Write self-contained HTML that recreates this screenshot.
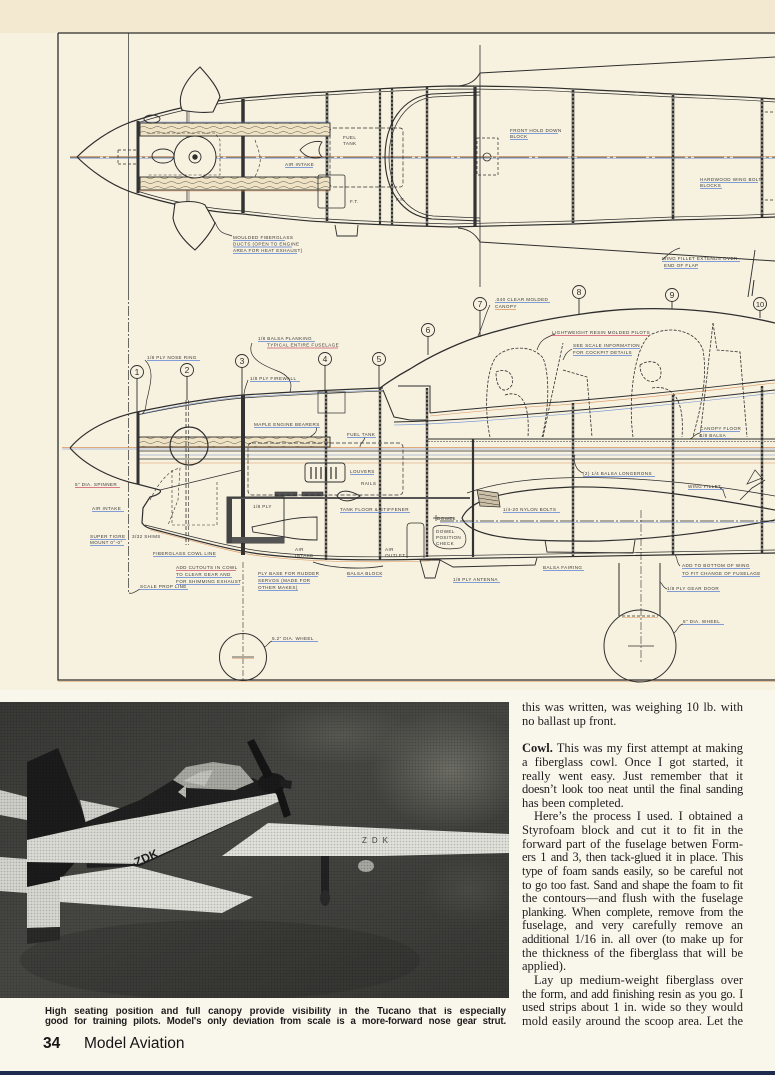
<!DOCTYPE html>
<html><head><meta charset="utf-8">
<style>
html,body{margin:0;padding:0}
body{width:775px;height:1075px;position:relative;overflow:hidden;background:#f9f6ec;font-family:"Liberation Sans",sans-serif}
.top{position:absolute;left:0;top:0;width:775px;height:33px;background:#f3e8d0}
.draw{position:absolute;left:0;top:33px;width:775px;height:657px;background:#f7f1df}
.cap{position:absolute;left:45px;top:1007px;width:461px;font-weight:bold;font-size:9.7px;line-height:10.3px;color:#1c1c1c}
.cap div{text-align:justify;text-align-last:justify;height:10.3px;overflow:hidden}
.folio{position:absolute;top:1035.6px;font-size:15.5px;line-height:16px;color:#151515}
.col{position:absolute;left:522px;top:701.4px;width:221px;font-family:"Liberation Serif",serif;font-size:12.5px;line-height:13.64px;color:#1e1e1e}
.col div{text-align:justify;text-align-last:justify;height:13.64px;overflow:hidden;white-space:normal}
.col div.e{text-align-last:left}
.col div.i{text-indent:12px}
.col div.t{letter-spacing:-0.28px}
.navy{position:absolute;left:0;top:1071px;width:775px;height:4px;background:#1e2b4d}
</style></head><body>
<div class="top"></div>
<div class="draw"></div>

<svg width="775" height="1075" viewBox="0 0 775 1075" style="position:absolute;left:0;top:0">
<defs>
 <pattern id="wood" width="14" height="5" patternUnits="userSpaceOnUse">
  <rect width="14" height="5" fill="#efe3c4"/>
  <path d="M0,2.5 Q3.5,0.5 7,2.5 T14,2.5" fill="none" stroke="#555" stroke-width="0.5"/>
 </pattern>
 <pattern id="half" width="3" height="3" patternUnits="userSpaceOnUse">
  <circle cx="1.5" cy="1.5" r="0.9" fill="#000" opacity="0.18"/>
 </pattern>
 <linearGradient id="pg" x1="0" y1="0" x2="1" y2="1">
  <stop offset="0" stop-color="#383835"/>
  <stop offset="0.45" stop-color="#474743"/>
  <stop offset="1" stop-color="#373734"/>
 </linearGradient>
 <radialGradient id="spot" cx="0.5" cy="0.5" r="0.5">
  <stop offset="0" stop-color="#77776f" stop-opacity="0.8"/>
  <stop offset="1" stop-color="#77776f" stop-opacity="0"/>
 </radialGradient>
 <clipPath id="pc"><rect x="0" y="702" width="509" height="296"/></clipPath>
</defs>

<!-- ================= DRAWING ================= -->
<g fill="none" stroke="#2e2e2e" stroke-width="1">
 <path d="M58,33 H775 M58,33 V680 H775" stroke-width="1.3"/>
 <line x1="58" y1="681.5" x2="775" y2="681.5" stroke="#d9925a" stroke-width="0.6"/>
 <line x1="128.5" y1="33" x2="128.5" y2="290" stroke-width="0.7"/>
 <line x1="128.5" y1="290" x2="128.5" y2="593" stroke-width="0.7" stroke-dasharray="10 2 2 2"/>

 <!-- ===== TOP VIEW ===== -->
 <line x1="70" y1="156.3" x2="775" y2="156.3" stroke="#d9925a" stroke-width="0.7"/>
 <line x1="70" y1="158.2" x2="775" y2="158.2" stroke="#6c8fd4" stroke-width="0.7"/>
 <line x1="70" y1="157.2" x2="775" y2="157.2" stroke-width="0.6" stroke-dasharray="30 3 3 3"/>

 <path d="M77,157 C88,146 110,128 137,120 C165,111 205,101 243,98 C280,95 300,93 327,92 C360,90 380,88 450,86 C500,86 540,87 573,89 C620,91 650,93 673,94 C720,96 750,97 775,99" stroke-width="1.2"/>
 <path d="M137,123 C165,114 205,104 243,101 C280,98 300,96 327,95 C360,93 380,91 450,89 C500,89 540,90 573,92 C620,94 650,96 673,97 C720,99 750,100 775,102" stroke-width="0.7"/>
 <path d="M77,157 C88,168 110,186 137,194 C165,203 205,212 243,214 C280,218 300,221 327,222 C360,224 380,225 450,227 C500,226 540,225 573,224 C620,222 650,221 673,220 C720,219 750,218 775,217" stroke-width="1.2"/>
 <path d="M137,191 C165,200 205,209 243,211 C280,215 300,218 327,219 C360,221 380,222 450,224 C500,223 540,222 573,221 C620,219 650,218 673,217 C720,216 750,215 775,214" stroke-width="0.7"/>

 <g stroke="#333">
  <line x1="138" y1="121" x2="138" y2="193" stroke-width="3"/>
  <line x1="243" y1="99" x2="243" y2="213" stroke-width="3.5"/>
  <line x1="327" y1="93" x2="327" y2="221" stroke-width="2.6"/>
  <line x1="380" y1="89" x2="380" y2="224" stroke-width="2.2"/>
  <line x1="392" y1="88" x2="392" y2="225" stroke-width="2.2"/>
  <line x1="427" y1="87" x2="427" y2="226" stroke-width="2.4"/>
  <line x1="475" y1="87" x2="475" y2="226" stroke-width="3.2"/>
  <line x1="573" y1="90" x2="573" y2="223" stroke-width="2.6"/>
  <line x1="673" y1="95" x2="673" y2="219" stroke-width="2.6"/>
  <line x1="762" y1="98" x2="762" y2="217" stroke-width="2.6"/>
 </g>
 <g stroke="#f7f1df" stroke-width="0.8" stroke-dasharray="2 2">
  <line x1="327" y1="95" x2="327" y2="219"/>
  <line x1="380" y1="91" x2="380" y2="222"/>
  <line x1="392" y1="90" x2="392" y2="223"/>
  <line x1="427" y1="89" x2="427" y2="224"/>
  <line x1="573" y1="92" x2="573" y2="221"/>
  <line x1="673" y1="97" x2="673" y2="217"/>
  <line x1="762" y1="100" x2="762" y2="215"/>
 </g>
 <line x1="187" y1="108" x2="187" y2="206" stroke-width="0.8"/>
 <line x1="189" y1="108" x2="189" y2="206" stroke-width="0.5"/>

 <rect x="140" y="123" width="190" height="13" fill="url(#wood)" stroke-width="0.9"/>
 <rect x="140" y="177" width="190" height="13" fill="url(#wood)" stroke-width="0.9"/>
 <line x1="140" y1="122" x2="330" y2="122" stroke="#6c8fd4" stroke-width="0.6"/>
 <line x1="140" y1="191" x2="330" y2="191" stroke="#d9925a" stroke-width="0.6"/>

 <path d="M200,67 C210,78 218,88 220,97 L213,112 C203,113 190,112 182,110 C178,100 180,85 200,67 Z" fill="#f7f1df" stroke-width="1.1"/>
 <path d="M175,203 C190,200 200,202 205,205 L215,223 C210,235 200,245 195,250 C183,240 175,230 173,218 Z" fill="#f7f1df" stroke-width="1.1"/>
 <circle cx="195" cy="157" r="21" fill="#f7f1df" stroke-width="1"/>
 <circle cx="195" cy="157" r="6" stroke-width="0.9"/>
 <circle cx="195" cy="157" r="2.2" fill="#2e2e2e"/>
 <ellipse cx="163" cy="156" rx="11" ry="7" stroke-width="0.9"/>
 <ellipse cx="152" cy="119" rx="8" ry="4" stroke-width="0.9"/>
 <path d="M118,150 H137 M118,164 H137 M118,150 V164" stroke-width="0.7" stroke-dasharray="3 2"/>
 <path d="M147,133 L215,133 L220,140 L220,175 L147,175" stroke-width="0.6" stroke-dasharray="3 2"/>
 <path d="M255,140 C262,160 262,160 255,177" stroke-width="0.6" stroke-dasharray="3 2"/>
 <path d="M300,150 C306,143 315,140 322,142 C318,148 318,153 322,157 C314,160 305,157 300,150 Z" stroke-width="0.9"/>
 <rect x="330" y="128" width="73" height="59" rx="3" stroke-width="0.7" stroke-dasharray="4 2"/>
 <rect x="318" y="175" width="27" height="33" rx="2" stroke-width="0.8"/>
 <path d="M335,225 L337,236 L357,236 L358,225" stroke-width="0.9"/>
 <path d="M480,92 L432,94 C402,97 385,124 385,157 C385,190 402,216 432,219 L480,221" stroke-width="1.1"/>
 <path d="M480,95 L433,97 C406,100 389,126 389,157 C389,188 406,213 433,216 L480,218" stroke-width="0.7"/>
 <rect x="477" y="138" width="21" height="37" stroke-width="0.7" stroke-dasharray="3 2"/>
 <circle cx="487" cy="157" r="4" stroke-width="0.8"/>
 <path d="M458,86 C470,85 476,80 480,73 L775,57" stroke-width="1"/>
 <path d="M458,228 C470,229 476,235 480,242 L775,261" stroke-width="1"/>
 <line x1="480" y1="45" x2="480" y2="287" stroke-width="0.8"/>
 <path d="M765,112 L775,112 M765,200 L775,200" stroke-width="0.7" stroke-dasharray="3 2"/>
 <line x1="748" y1="297" x2="755" y2="250" stroke-width="0.9"/>
 <line x1="754" y1="280" x2="752" y2="296" stroke-width="1"/>

 <!-- ===== SIDE VIEW ===== -->
 <line x1="62" y1="447.5" x2="775" y2="447.5" stroke="#d9925a" stroke-width="0.8"/>
 <line x1="62" y1="449" x2="775" y2="449" stroke="#6c8fd4" stroke-width="0.5"/>
 <line x1="137" y1="451" x2="775" y2="451" stroke-width="0.7"/>
 <line x1="137" y1="455" x2="775" y2="455" stroke="#6c8fd4" stroke-width="0.6"/>
 <line x1="137" y1="459" x2="775" y2="459" stroke-width="0.8"/>
 <line x1="137" y1="463" x2="775" y2="463" stroke="#d9925a" stroke-width="0.6"/>
 <path d="M70,448 C85,430 110,418 137,412 C175,404 210,398 243,395 C290,392 330,390 383,388" stroke-width="1.2"/>
 <path d="M137,415 C175,407 210,401 243,398 C290,395 330,393 383,391" stroke-width="0.7"/>
 <path d="M140,414 C175,406 210,400 243,397 C290,394 330,392 383,390" stroke="#6c8fd4" stroke-width="0.5"/>
 <path d="M380,388 Q395,377 410,369 Q440,350 477,337 Q525,322 575,315 Q625,307 672,309 Q725,311 775,323" stroke-width="1.3"/>
 <path d="M383,390 L394,417 L410,420 L428,420" stroke-width="1"/>
 <path d="M398,386 L430,386 L430,413" stroke-width="1"/>
 <path d="M430,413 C470,409 520,404 560,402 C650,395 720,386 775,380" stroke-width="1"/>
 <path d="M430,416 C470,412 520,407 560,405 C650,398 720,389 775,383" stroke="#d9925a" stroke-width="0.6"/>
 <path d="M394,422 C450,421 520,415 580,410 C660,403 720,396 775,390" stroke-width="1"/>
 <path d="M394,425 C450,424 520,418 580,413 C660,406 720,399 775,393" stroke="#6c8fd4" stroke-width="0.6"/>
 <line x1="428" y1="439" x2="775" y2="439" stroke-width="1"/>
 <line x1="428" y1="441.5" x2="775" y2="441.5" stroke-width="0.6" stroke-dasharray="2 1"/>
 <rect x="138" y="437" width="192" height="10" fill="url(#wood)" stroke-width="0.9"/>
 <circle cx="189" cy="446" r="19" stroke-width="1.2"/>
 <path d="M70,448 C85,465 110,478 137,484 L160,490 C162,492 158,495 150,497 L143,508 L142,523 C145,527 148,528 152,529 C190,539 230,550 260,554 C300,559 360,561 430,559 C550,557 680,555 775,553" stroke-width="1.2"/>
 <path d="M145,525 C190,536 230,547 260,551 C300,556 360,558 430,556 C550,554 680,552 775,550" stroke-width="0.7"/>
 <path d="M150,530 C190,540 230,552 260,556 C300,561 360,563 430,561" stroke="#d9925a" stroke-width="0.6"/>
 <path d="M160,490 L243,470" stroke-width="0.8"/>
 <g stroke="#333">
  <line x1="138" y1="412" x2="138" y2="484" stroke-width="3"/>
  <line x1="243" y1="395" x2="243" y2="555" stroke-width="4"/>
  <line x1="326" y1="391" x2="326" y2="560" stroke-width="2.4"/>
  <line x1="380" y1="388" x2="380" y2="560" stroke-width="2.4"/>
  <line x1="427" y1="388" x2="427" y2="557" stroke-width="2.4"/>
  <line x1="473" y1="439" x2="473" y2="557" stroke-width="2.2"/>
  <line x1="573" y1="403" x2="573" y2="557" stroke-width="2.4"/>
  <line x1="673" y1="395" x2="673" y2="555" stroke-width="2.4"/>
  <line x1="762" y1="386" x2="762" y2="553" stroke-width="2.4"/>
 </g>
 <g stroke="#f7f1df" stroke-width="0.8" stroke-dasharray="2 2">
  <line x1="326" y1="393" x2="326" y2="558"/>
  <line x1="380" y1="390" x2="380" y2="558"/>
  <line x1="427" y1="390" x2="427" y2="555"/>
  <line x1="573" y1="405" x2="573" y2="555"/>
  <line x1="673" y1="397" x2="673" y2="553"/>
  <line x1="762" y1="388" x2="762" y2="551"/>
 </g>
 <line x1="186" y1="400" x2="186" y2="545" stroke-width="0.8" stroke-dasharray="4 2"/>
 <line x1="188.5" y1="400" x2="188.5" y2="545" stroke-width="0.6" stroke-dasharray="4 2"/>

 <g stroke-width="0.9">
  <circle cx="137" cy="372" r="6.5"/><line x1="137" y1="379" x2="137" y2="412"/>
  <circle cx="187" cy="370" r="6.5"/><line x1="187" y1="377" x2="187" y2="400"/>
  <circle cx="242" cy="361" r="6.5"/><line x1="242" y1="368" x2="242" y2="395"/>
  <circle cx="325" cy="359" r="6.5"/><line x1="325" y1="366" x2="325" y2="391"/>
  <circle cx="379" cy="359" r="6.5"/><line x1="379" y1="366" x2="379" y2="388"/>
  <circle cx="428" cy="330" r="6.5"/><line x1="428" y1="337" x2="428" y2="355"/>
  <circle cx="480" cy="304" r="6.5"/><line x1="480" y1="311" x2="480" y2="337"/>
  <circle cx="579" cy="292" r="6.5"/><line x1="579" y1="299" x2="579" y2="315"/>
  <circle cx="672" cy="295" r="6.5"/><line x1="672" y1="302" x2="672" y2="309"/>
  <circle cx="760" cy="304" r="6.5"/><line x1="760" y1="311" x2="760" y2="318"/>
 </g>

 <line x1="227" y1="498" x2="470" y2="498" stroke="#555" stroke-width="2"/>
 <rect x="227" y="497" width="57" height="46" stroke-width="0.9"/>
 <rect x="227" y="497" width="5" height="46" fill="#444" stroke="none"/>
 <rect x="232" y="537" width="52" height="6" fill="#555" stroke="none"/>
 <rect x="275" y="492" width="22" height="4" fill="#555" stroke="#333" stroke-width="0.6"/>
 <rect x="302" y="492" width="21" height="4" fill="#555" stroke="#333" stroke-width="0.6"/>
 <path d="M252,527 L285,520 Q300,517 317,517 L317,540 Q300,540 285,537 L253,532 Z" stroke-width="0.9"/>
 <rect x="305" y="463" width="40" height="19" rx="3" stroke-width="0.9"/>
 <path d="M311,467 V479 M316,467 V479 M321,467 V479 M326,467 V479 M331,467 V479 M336,467 V479" stroke-width="1.2"/>
 <rect x="248" y="443" width="155" height="52" rx="4" stroke-width="0.7" stroke-dasharray="4 2"/>
 <rect x="318" y="392" width="27" height="21" stroke-width="0.7"/>
 <path d="M337,496 C340,489 350,490 360,496 C352,502 342,503 337,496 Z" stroke-width="1"/>
 <path d="M407,558 L407,527 Q407,523 411,523 L420,523 Q424,523 424,527 L424,558" stroke-width="0.8"/>
 <path d="M172,470 L172,525 L217,525 L217,480" stroke-width="0.6" stroke-dasharray="3 2"/>
 <path d="M150,500 C160,480 170,470 180,468 L178,500 L168,525" stroke-width="0.6" stroke-dasharray="3 2"/>
 <path d="M313,562 C330,568 360,570 383,566" stroke-width="0.9"/>

 <path d="M462,518 C470,500 500,490 573,487 C640,486 720,500 775,510" stroke-width="1.2"/>
 <path d="M462,518 C470,538 520,542 600,541 C680,538 730,528 775,520" stroke-width="1.2"/>
 <path d="M467,493 C530,470 650,474 775,496" stroke-width="0.8"/>
 <line x1="440" y1="521" x2="775" y2="521" stroke-width="0.7" stroke-dasharray="14 2 2 2"/>
 <line x1="440" y1="522.5" x2="775" y2="522.5" stroke="#6c8fd4" stroke-width="0.5"/>
 <path d="M477,490 L498,493 L500,507 L480,506 Z" fill="#ccc1a6" stroke-width="0.8"/>
 <path d="M479,494 L497,497 M479,498 L498,501 M480,502 L499,505" stroke-width="0.5"/>
 <path d="M433,518 H455 M436,515 V521" stroke-width="0.7"/>
 <path d="M433,530 C432,524 445,525 455,527 C468,528 469,546 460,548 C448,550 433,549 433,540 Z" stroke-width="0.7"/>
 <path d="M420,560 L440,560 L435,578 L425,578 Z" stroke-width="0.9"/>
 <path d="M440,560 L453,567 L535,565 L537,558" stroke-width="0.9"/>
 <path d="M545,540 L547,552 L633,553 L635,540" stroke-width="0.9"/>
 <path d="M740,500 L752,488 L765,480" stroke-width="0.8"/>
 <path d="M747,484 L755,470 L762,478 Z" stroke-width="0.7"/>

 <g stroke-width="0.8" stroke-dasharray="3 1.5">
  <path d="M490,437 C484,410 486,370 496,357 C506,346 532,344 543,358 C550,375 549,410 542,437"/>
  <path d="M496,372 C505,368 515,372 512,385 C505,395 496,390 496,372"/>
  <path d="M505,395 C520,390 530,400 528,437"/>
  <path d="M543,437 L563,343"/>
  <path d="M563,370 L587,377 L592,437"/>
  <path d="M633,437 C628,400 634,348 650,335 C670,325 696,330 703,350 C708,380 700,410 693,437"/>
  <path d="M640,365 C650,358 665,362 660,378 C652,386 640,380 640,365"/>
  <path d="M652,388 C670,385 685,395 682,437"/>
  <path d="M700,437 L713,323"/>
  <path d="M713,323 L717,350 L740,352 L747,437"/>
 </g>

 <circle cx="243" cy="657" r="23.5" stroke-width="1"/>
 <line x1="243" y1="562" x2="243" y2="680" stroke-width="0.6" stroke-dasharray="6 2 2 2"/>
 <line x1="232" y1="657" x2="254" y2="657" stroke-width="0.7"/>
 <line x1="232" y1="658.5" x2="254" y2="658.5" stroke="#d9925a" stroke-width="0.5"/>
 <line x1="619" y1="563" x2="619" y2="616" stroke-width="1"/>
 <line x1="660" y1="563" x2="660" y2="616" stroke-width="1"/>
 <circle cx="640" cy="646" r="36" stroke-width="1"/>
 <line x1="622" y1="616" x2="658" y2="616" stroke-width="0.7" stroke-dasharray="3 2"/>
 <line x1="622" y1="617.5" x2="658" y2="617.5" stroke="#d9925a" stroke-width="0.5"/>
 <line x1="641" y1="510" x2="641" y2="662" stroke-width="0.6" stroke-dasharray="8 2 2 2"/>
 <line x1="628" y1="646" x2="654" y2="646" stroke-width="0.7"/>

 <g stroke-width="0.7">
  <path d="M215,222 C220,235 225,233 232,236"/>
  <path d="M252,343 C245,360 270,368 280,372 C292,378 292,385 290,392"/>
  <path d="M145,360 C155,370 150,385 148,395 C145,405 147,410 142,414"/>
  <path d="M248,380 C246,386 244,390 244,395"/>
  <path d="M316,427 C318,432 313,435 310,437"/>
  <path d="M365,437 C364,442 360,443 360,447"/>
  <path d="M555,334 C545,338 540,340 537,350"/>
  <path d="M572,349 C565,353 565,356 563,360"/>
  <path d="M490,305 C485,315 483,325 478,336"/>
  <path d="M700,433 C694,434 695,437 690,439"/>
  <path d="M583,473 C575,470 573,460 575,455"/>
  <path d="M720,488 C725,490 723,494 726,498"/>
  <path d="M680,566 C676,562 678,558 675,555"/>
  <path d="M667,589 C662,587 663,584 660,582"/>
  <path d="M683,624 C678,625 678,630 674,633"/>
  <path d="M272,641 C267,643 268,646 264,647"/>
  <path d="M662,260 C668,255 672,250 680,248"/>
  <path d="M140,589 C135,592 132,594 129,593"/>
 </g>
</g>

<g font-family="Liberation Sans, sans-serif" font-size="4.6" fill="#3a3a3a" letter-spacing="0.4">
 <text x="233" y="239">MOULDED FIBERGLASS</text>
 <text x="233" y="245.5">DUCTS (OPEN TO ENGINE</text>
 <text x="233" y="252">AREA FOR HEAT EXHAUST)</text>
 <text x="285" y="166">AIR INTAKE</text>
 <text x="343" y="139">FUEL</text><text x="343" y="145">TANK</text>
 <text x="350" y="203">F.T.</text>
 <text x="396" y="201">F.R.</text>
 <text x="510" y="132">FRONT HOLD DOWN</text><text x="510" y="138">BLOCK</text>
 <text x="700" y="181">HARDWOOD WING BOLT</text><text x="700" y="187">BLOCKS</text>
 <text x="662" y="260">WING FILLET EXTENDS OVER</text><text x="664" y="267">END OF FLAP</text>
 <text x="147" y="359">1/8 PLY NOSE RING</text>
 <text x="258" y="340">1/8 BALSA PLANKING</text><text x="267" y="346.5">TYPICAL ENTIRE FUSELAGE</text>
 <text x="250" y="380">1/8 PLY FIREWALL</text>
 <text x="254" y="426">MAPLE ENGINE BEARERS</text>
 <text x="347" y="436">FUEL TANK</text>
 <text x="350" y="473">LOUVERS</text>
 <text x="361" y="485">RAILS</text>
 <text x="75" y="486">5" DIA. SPINNER</text>
 <text x="92" y="510">AIR INTAKE</text>
 <text x="90" y="538">SUPER TIGRE</text><text x="90" y="544">MOUNT 0°-0°</text>
 <text x="132" y="538">3/32 SHIMS</text>
 <text x="153" y="555">FIBERGLASS COWL LINE</text>
 <text x="176" y="569">ADD CUTOUTS IN COWL</text><text x="176" y="576">TO CLEAR GEAR AND</text><text x="176" y="583">FOR SHIMMING EXHAUST</text>
 <text x="140" y="588">SCALE PROP LINE</text>
 <text x="253" y="508">1/8 PLY</text>
 <text x="295" y="551">AIR</text><text x="295" y="557">INTAKE</text>
 <text x="258" y="575">PLY BASE FOR RUDDER</text><text x="258" y="582">SERVOS (MADE FOR</text><text x="258" y="589">OTHER MAKES)</text>
 <text x="347" y="575">BALSA BLOCK</text>
 <text x="385" y="551">AIR</text><text x="385" y="557">OUTLET</text>
 <text x="272" y="640">5.2" DIA. WHEEL</text>
 <text x="340" y="511">TANK FLOOR &amp; STIFFENER</text>
 <text x="495" y="301">.040 CLEAR MOLDED</text><text x="495" y="308">CANOPY</text>
 <text x="552" y="334">LIGHTWEIGHT RESIN MOLDED PILOTS</text>
 <text x="573" y="347">SEE SCALE INFORMATION</text><text x="573" y="354">FOR COCKPIT DETAILS</text>
 <text x="583" y="475">(2) 1/4 BALSA LONGERONS</text>
 <text x="688" y="488">WING FILLET</text>
 <text x="700" y="430">CANOPY FLOOR</text><text x="700" y="437">1/8 BALSA</text>
 <text x="503" y="511">1/4-20 NYLON BOLTS</text>
 <text x="437" y="520">DOWEL</text>
 <text x="436" y="533">DOWEL</text><text x="436" y="539">POSITION</text><text x="436" y="545">CHECK</text>
 <text x="453" y="581">1/8 PLY ANTENNA</text>
 <text x="543" y="569">BALSA FAIRING</text>
 <text x="682" y="567">ADD TO BOTTOM OF WING</text><text x="682" y="575">TO FIT CHANGE OF FUSELAGE</text>
 <text x="667" y="590">1/8 PLY GEAR DOOR</text>
 <text x="683" y="623">5" DIA. WHEEL</text>
</g>
<g font-family="Liberation Sans, sans-serif" font-size="8.5" fill="#2e2e2e" text-anchor="middle">
 <text x="137" y="375">1</text><text x="187" y="373">2</text><text x="242" y="364">3</text><text x="325" y="362">4</text><text x="379" y="362">5</text>
 <text x="428" y="333">6</text><text x="480" y="307">7</text><text x="579" y="295">8</text><text x="672" y="298">9</text><text x="760" y="307" font-size="7.5">10</text>
</g>
<g stroke-width="0.7" stroke="#5b7fd6">
 <line x1="233" y1="240.5" x2="285" y2="240.5"/><line x1="233" y1="247" x2="292" y2="247"/><line x1="233" y1="253.5" x2="297" y2="253.5"/>
 <line x1="285" y1="167.5" x2="313" y2="167.5"/>
 <line x1="510" y1="133.5" x2="558" y2="133.5"/><line x1="510" y1="139.5" x2="528" y2="139.5"/>
 <line x1="700" y1="182.5" x2="758" y2="182.5"/><line x1="700" y1="188.5" x2="722" y2="188.5"/>
 <line x1="662" y1="261.5" x2="740" y2="261.5"/><line x1="664" y1="268.5" x2="698" y2="268.5"/>
 <line x1="147" y1="360.5" x2="200" y2="360.5"/>
 <line x1="258" y1="341.5" x2="315" y2="341.5"/>
 <line x1="267" y1="348" x2="338" y2="348" stroke="#d0506a"/>
 <line x1="250" y1="381.5" x2="300" y2="381.5"/>
 <line x1="254" y1="427.5" x2="320" y2="427.5"/>
 <line x1="347" y1="437.5" x2="376" y2="437.5"/>
 <line x1="350" y1="474.5" x2="374" y2="474.5"/>
 <line x1="75" y1="487.5" x2="120" y2="487.5" stroke="#d0506a"/>
 <line x1="92" y1="511.5" x2="124" y2="511.5"/>
 <line x1="90" y1="539.5" x2="126" y2="539.5"/><line x1="90" y1="545.5" x2="124" y2="545.5"/>
 <line x1="153" y1="556.5" x2="216" y2="556.5"/>
 <line x1="176" y1="570.5" x2="236" y2="570.5" stroke="#d0506a"/><line x1="176" y1="577.5" x2="232" y2="577.5"/><line x1="176" y1="584.5" x2="240" y2="584.5"/>
 <line x1="140" y1="589.5" x2="188" y2="589.5"/>
 <line x1="258" y1="576.5" x2="318" y2="576.5"/><line x1="258" y1="583.5" x2="310" y2="583.5"/><line x1="258" y1="590.5" x2="298" y2="590.5"/>
 <line x1="347" y1="576.5" x2="382" y2="576.5"/>
 <line x1="272" y1="641.5" x2="318" y2="641.5"/>
 <line x1="340" y1="512.5" x2="410" y2="512.5"/>
 <line x1="495" y1="302.5" x2="550" y2="302.5"/><line x1="495" y1="309.5" x2="516" y2="309.5" stroke="#d9925a"/>
 <line x1="552" y1="335.5" x2="650" y2="335.5" stroke="#d0506a"/>
 <line x1="573" y1="348.5" x2="640" y2="348.5"/><line x1="573" y1="355.5" x2="632" y2="355.5"/>
 <line x1="583" y1="476.5" x2="655" y2="476.5"/>
 <line x1="688" y1="489.5" x2="724" y2="489.5"/>
 <line x1="700" y1="431.5" x2="740" y2="431.5"/><line x1="700" y1="438.5" x2="730" y2="438.5"/>
 <line x1="503" y1="512.5" x2="560" y2="512.5"/>
 <line x1="453" y1="582.5" x2="500" y2="582.5"/>
 <line x1="543" y1="570.5" x2="584" y2="570.5"/>
 <line x1="682" y1="568.5" x2="750" y2="568.5"/><line x1="682" y1="576.5" x2="760" y2="576.5"/>
 <line x1="667" y1="591.5" x2="720" y2="591.5"/>
 <line x1="683" y1="624.5" x2="724" y2="624.5"/>
</g>

<!-- ================= PHOTO ================= -->
<g clip-path="url(#pc)">
<rect x="0" y="702" width="509" height="296" fill="url(#pg)"/>
<ellipse cx="450" cy="770" rx="80" ry="60" fill="url(#spot)"/>
<ellipse cx="340" cy="735" rx="80" ry="30" fill="url(#spot)" opacity="0.5"/>
<ellipse cx="470" cy="890" rx="50" ry="35" fill="url(#spot)" opacity="0.3"/>
<ellipse cx="220" cy="960" rx="200" ry="40" fill="#2a2a27" opacity="0.35"/>
<g stroke="none">
 <polygon points="0,790 27,797 27,820 0,815" fill="#cfcfc9"/>
 <polygon points="0,857 27,859 27,893 0,891" fill="#d6d6d0"/>
 <polygon points="27,762 58,748 80,805 88,823 90,845 60,880 27,887" fill="#1b1b1b"/>
 <polygon points="80,800 138,812 137,826 86,824" fill="#d2d2cc"/>
 <polygon points="83,823 140,800 173,780 253,778 277,790 282,800 140,866 87,868" fill="#202020"/>
 <polygon points="27,840 90,826 275,793 282,800 140,864 27,862" fill="#dcdcd6"/>
 <polygon points="60,877 133,866 253,897 222,913 60,902" fill="#e0e0da"/>
 <polygon points="27,887 60,880 60,927 27,928" fill="#d8d8d2"/>
 <polygon points="27,928 60,927 60,940 27,944" fill="#2a2a28"/>
 <polygon points="222,856 268,823 509,834 509,853 380,856" fill="#e2e2dc"/>
 <polygon points="173,780 186,767 213,762 240,766 254,782 235,790 187,788" fill="#a9a9a3"/>
 <polygon points="183,781 200,772 213,770 205,786" fill="#c4c4be"/>
 <ellipse cx="272" cy="783" rx="14" ry="10" fill="#1a1a1a"/>
 <polygon points="247,742 254,739 273,775 265,779" fill="#151515"/>
 <polygon points="275,790 282,787 291,815 284,818" fill="#151515"/>
 <polygon points="280,779 292,781 291,789 281,787" fill="#202020"/>
 <polygon points="178,792 186,785 186,798" fill="#bdbdb7"/>
 <rect x="321" y="856" width="8" height="40" fill="#222"/>
 <ellipse cx="325" cy="898" rx="5" ry="8" fill="#2a2a2a"/>
 <ellipse cx="366" cy="866" rx="8" ry="6" fill="#a8a8a2"/>
</g>
<text x="0" y="0" transform="translate(133,868) rotate(-24)" font-family="Liberation Sans, sans-serif" font-weight="bold" font-size="12" fill="#1e1e1e">-ZDK</text>
<text x="362" y="843" font-family="Liberation Sans, sans-serif" font-size="8" fill="#4a4a48" letter-spacing="5">ZDK</text>
<rect x="0" y="702" width="509" height="296" fill="url(#half)"/>
</g>
</svg>

<div class="cap">
 <div>High seating position and full canopy provide visibility in the Tucano that is especially</div>
 <div style="letter-spacing:-0.15px">good for training pilots. Model's only deviation from scale is a more-forward nose gear strut.</div>
</div>
<div class="folio" style="left:43px;font-weight:bold">34</div>
<div class="folio" style="left:84px">Model Aviation</div>

<div class="col">
 <div>this was written, was weighing 10 lb. with</div>
 <div class="e">no ballast up front.</div>
 <div class="e">&nbsp;</div>
 <div><b>Cowl.</b> This was my first attempt at making</div>
 <div>a fiberglass cowl. Once I got started, it</div>
 <div>really went easy. Just remember that it</div>
 <div class="t">doesn’t look too neat until the final sanding</div>
 <div class="e">has been completed.</div>
 <div class="i">Here’s the process I used. I obtained a</div>
 <div>Styrofoam block and cut it to fit in the</div>
 <div>forward part of the fuselage betwen Form-</div>
 <div class="t">ers 1 and 3, then tack-glued it in place. This</div>
 <div class="t">type of foam sands easily, so be careful not</div>
 <div class="t">to go too fast. Sand and shape the foam to fit</div>
 <div>the contours—and flush with the fuselage</div>
 <div class="t">planking. When complete, remove from the</div>
 <div>fuselage, and very carefully remove an</div>
 <div class="t">additional 1/16 in. all over (to make up for</div>
 <div>the thickness of the fiberglass that will be</div>
 <div class="e">applied).</div>
 <div class="i">Lay up medium-weight fiberglass over</div>
 <div class="t">the form, and add finishing resin as you go. I</div>
 <div>used strips about 1 in. wide so they would</div>
 <div>mold easily around the scoop area. Let the</div>
</div>

<div class="navy"></div>
</body></html>
